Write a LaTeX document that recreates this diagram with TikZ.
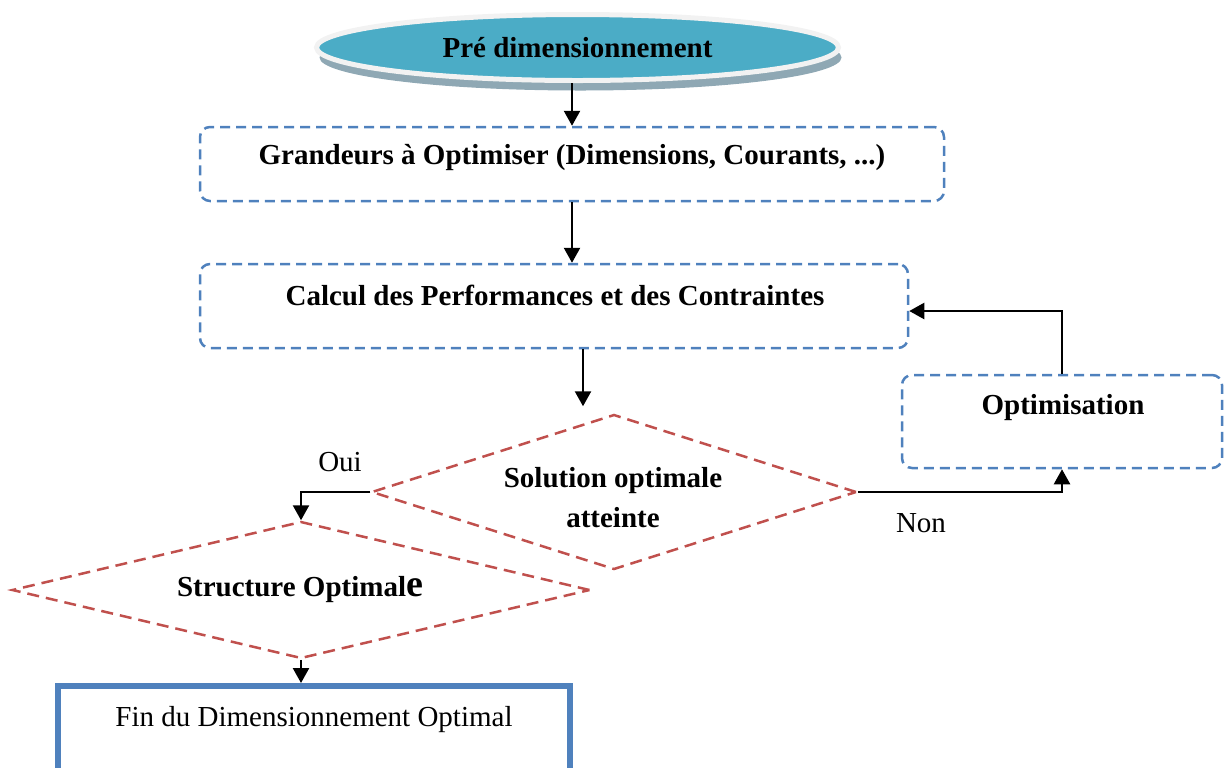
\documentclass[tikz,border=0pt]{standalone}
\usepackage{fontspec}
\setmainfont{Liberation Serif}
\usetikzlibrary{shapes.geometric,arrows.meta,shadows}
\definecolor{bleu}{HTML}{4F81BD}
\definecolor{rouge}{HTML}{C0504D}
\definecolor{turquoise}{HTML}{4BACC6}
\definecolor{ombre}{HTML}{8FA8B4}
\newcommand{\taille}{\fontsize{14.5}{20}\selectfont}

\begin{document}
\begin{tikzpicture}[x=0.5pt,y=-0.5pt,
    boite/.style={draw=bleu, line width=1.25pt, dash pattern=on 5pt off 3pt, rounded corners=5pt},
    losange/.style={diamond, draw=rouge, line width=1.25pt, dash pattern=on 6pt off 3.5pt, inner sep=0pt},
    titre/.style={font=\taille\bfseries, inner sep=0pt, align=center},
    texte/.style={font=\taille, inner sep=0pt},
    fleche/.style={line width=1.2pt, -{Triangle[length=7.5pt,width=8pt]}}
]
\useasboundingbox (0,0) rectangle (1224,767);
\clip (0,0) rectangle (1224,767);

% ellipse de depart
\node[ellipse, fill=turquoise, draw=gray!10, line width=2.5pt, minimum width=261pt, minimum height=33pt,
    drop shadow={shadow xshift=1.5pt, shadow yshift=-5pt, fill=ombre, opacity=1},
    titre] (pre) at (577.5,47.5) {Pré dimensionnement};

% boites (bleu, pointille)
\node[boite, minimum width=372pt, minimum height=37pt] (grand) at (572,164) {};
\node[titre] (grand-t) at (572,158) {Grandeurs à Optimiser (Dimensions, Courants, ...)};

\node[boite, minimum width=354pt, minimum height=42pt] (calc) at (554,306) {};
\node[titre] (calc-t) at (555,295) {Calcul des Performances et des Contraintes};

\node[boite, minimum width=160pt, minimum height=46.5pt] (optim) at (1062,421.5) {};
\node[titre] (optim-t) at (1063,408) {Optimisation};

% losanges (rouge, pointille)
\node[losange, minimum width=242.5pt, minimum height=77.5pt] (sol) at (614,492) {};
\node[titre] (sol-t) at (613,498) {Solution optimale\\atteinte};

\node[losange, minimum width=289pt, minimum height=68.5pt] (struct) at (301,590) {};
\node[titre] (struct-t) at (300,590) {Structure Optimal{\fontsize{19}{20}\selectfont e}};

% fin
\node[draw=bleu, line width=3pt, fill=white, minimum width=256pt, minimum height=60pt] (fin) at (314,746) {};
\node[texte] (fin-t) at (314,720) {Fin du Dimensionnement Optimal};

% fleches
\draw[fleche] (grand.north |- pre.south) -- (grand.north);
\draw[fleche] (grand.south) -- (grand.south |- calc.north);
\draw[fleche] ([xshift=14.5pt]calc.south) -- ++(0,57);
\draw[fleche] (sol.west) -| (struct.north);
\draw[fleche] (sol.east) -| (optim.south);
\draw[fleche] (optim.north) |- ([yshift=-2.5pt]calc.east);
\draw[fleche] (struct.south) -- (struct.south |- fin.north);

% etiquettes
\node[texte] (oui) at (340,462) {Oui};
\node[texte] (non) at (921,523) {Non};
\end{tikzpicture}
\end{document}
